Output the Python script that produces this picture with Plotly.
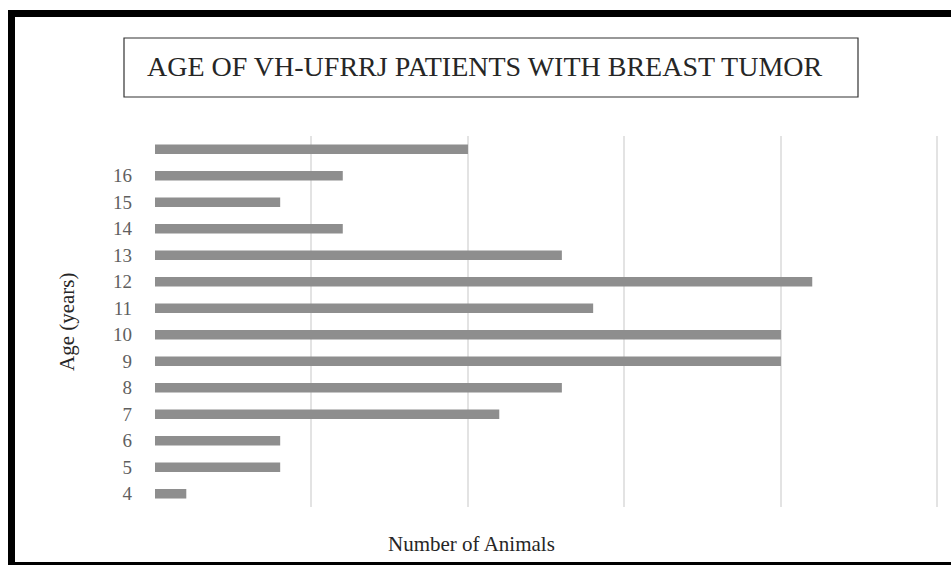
import plotly.graph_objects as go

# Data
ages = [4, 5, 6, 7, 8, 9, 10, 11, 12, 13, 14, 15, 16, 17]
age_labels = ["4", "5", "6", "7", "8", "9", "10", "11", "12", "13", "14", "15", "16", ""]
animals = [1, 4, 4, 11, 13, 20, 20, 14, 21, 13, 6, 4, 6, 10]

W, H = 951, 565
L, R, T, B = 155, 12, 136, 58
PW, PH = W - L - R, H - T - B


def px(x):
    return (x - L) / PW


def py(y):
    return (H - B - y) / PH


fig = go.Figure(go.Bar(
    x=animals, y=ages, orientation="h",
    marker=dict(color="#8e8e8e", line=dict(width=0)),
    hoverinfo="x+y",
))

fig.update_layout(
    width=W, height=H,
    margin=dict(l=L, r=R, t=T, b=B),
    paper_bgcolor="white", plot_bgcolor="white",
    bargap=0.64,
    showlegend=False,
    xaxis=dict(range=[0, 25.05], tickvals=[0, 5, 10, 15, 20, 25], showticklabels=False,
               showgrid=True, gridcolor="#e3e3e3", gridwidth=1.5, zeroline=False,
               showline=False, ticks=""),
    yaxis=dict(tickvals=ages, ticktext=age_labels, range=[3.5, 17.5],
               showgrid=False, zeroline=False, showline=False, ticks="",
               ticklabelstandoff=22,
               tickfont=dict(family="Liberation Serif", size=19, color="#5f5f5f")),
    font=dict(family="Liberation Serif"),
)

shapes = [
    # outer frame (left, top, bottom)
    dict(type="rect", xref="paper", yref="paper", x0=px(8), x1=px(15), y0=py(565), y1=py(10),
         fillcolor="black", line=dict(width=0), layer="above"),
    dict(type="rect", xref="paper", yref="paper", x0=px(8), x1=px(951), y0=py(17), y1=py(10),
         fillcolor="black", line=dict(width=0), layer="above"),
    dict(type="rect", xref="paper", yref="paper", x0=px(8), x1=px(951), y0=py(565), y1=py(562),
         fillcolor="black", line=dict(width=0), layer="above"),
    # title box
    dict(type="rect", xref="paper", yref="paper", x0=px(124), x1=px(858), y0=py(97), y1=py(38),
         fillcolor="rgba(0,0,0,0)", line=dict(color="#333333", width=1.2)),
]

annotations = [
    dict(text="AGE OF VH-UFRRJ PATIENTS WITH BREAST TUMOR", xref="paper", yref="paper",
         x=px(485), y=py(67), showarrow=False, xanchor="center", yanchor="middle",
         font=dict(family="Liberation Serif", size=28, color="#262626")),
    dict(text="Number of Animals", xref="paper", yref="paper",
         x=px(471), y=py(544), showarrow=False, xanchor="center", yanchor="middle",
         font=dict(family="Liberation Serif", size=21, color="#262626")),
    dict(text="Age (years)", xref="paper", yref="paper", textangle=-90,
         x=px(67), y=py(322), showarrow=False, xanchor="center", yanchor="middle",
         font=dict(family="Liberation Serif", size=21, color="#262626")),
]

fig.update_layout(shapes=shapes, annotations=annotations)

fig.write_html("out.html", config={"displayModeBar": False},
               post_script="document.body.style.margin='0';document.body.style.overflow='hidden';")
